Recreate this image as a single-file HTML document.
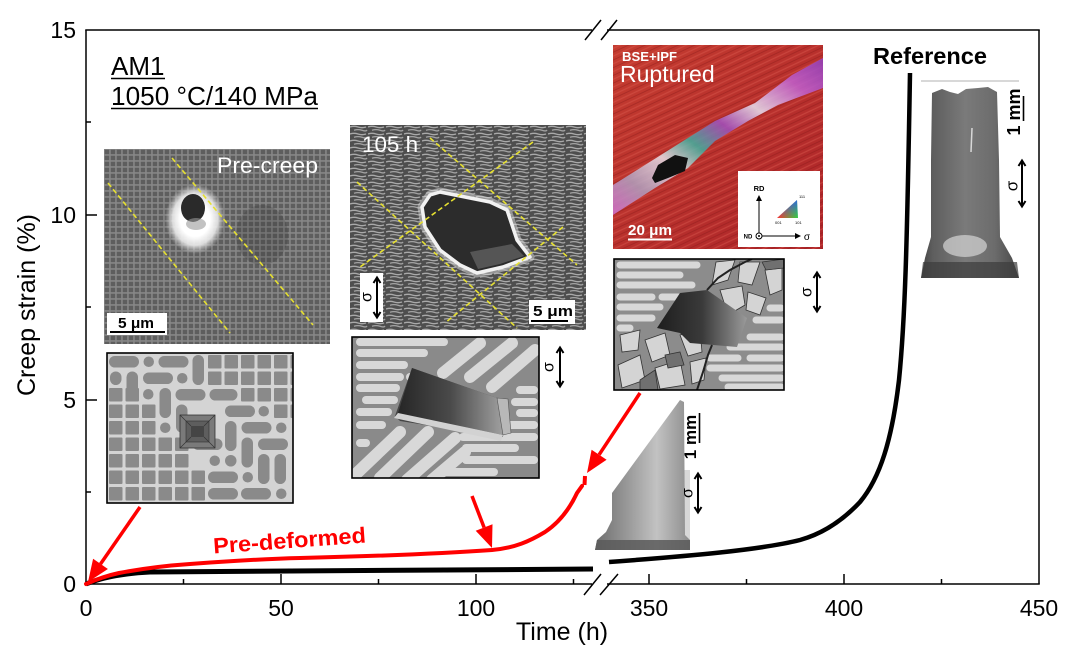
<!DOCTYPE html>
<html><head><meta charset="utf-8">
<style>
html,body{margin:0;padding:0;background:#fff;width:1080px;height:660px;overflow:hidden}
svg{display:block}
text{font-family:"Liberation Sans",Arial,sans-serif}
</style></head><body>
<svg width="1080" height="660" viewBox="0 0 1080 660" xmlns="http://www.w3.org/2000/svg">
<defs>
<pattern id="cub" x="104" y="149" width="6" height="6" patternUnits="userSpaceOnUse">
<rect width="6" height="6" fill="#959595"/><rect x="0.7" y="0.7" width="4.5" height="4.5" fill="#5a5a5a"/>
</pattern>
<pattern id="raft" x="350" y="125" width="18" height="7" patternUnits="userSpaceOnUse">
<rect width="18" height="7" fill="#4e4e4e"/>
<path d="M0,2 Q4,0.6 8,2 T16,2" stroke="#a9a9a9" stroke-width="1.4" fill="none"/>
<path d="M4,5.3 Q8,3.9 12,5.3 T17,5" stroke="#a2a2a2" stroke-width="1.3" fill="none"/>
</pattern>
<pattern id="grid" x="107.5" y="353.5" width="16.5" height="16.5" patternUnits="userSpaceOnUse">
<rect width="16.5" height="16.5" fill="#d4d4d4"/><rect x="1.5" y="1.5" width="13.5" height="13.5" rx="1" fill="#8a8a8a"/>
</pattern>
<pattern id="streak" width="7" height="7" patternUnits="userSpaceOnUse" patternTransform="rotate(-25)">
<line x1="0" y1="2" x2="7" y2="2" stroke="#dc5a50" stroke-width="1.2" opacity="0.45"/>
<line x1="0" y1="5.5" x2="7" y2="5.5" stroke="#801515" stroke-width="1" opacity="0.35"/>
</pattern>
<radialGradient id="glow" cx="0.5" cy="0.5" r="0.5">
<stop offset="0.5" stop-color="#ffffff"/><stop offset="0.75" stop-color="#eaeaea" stop-opacity="0.9"/><stop offset="1" stop-color="#cccccc" stop-opacity="0"/>
</radialGradient>
<linearGradient id="prism" x1="0" y1="0" x2="1" y2="0">
<stop offset="0" stop-color="#262626"/><stop offset="0.5" stop-color="#4a4a4a"/><stop offset="1" stop-color="#a0a0a0"/>
</linearGradient>
<linearGradient id="crack" x1="0" y1="0" x2="1" y2="0">
<stop offset="0" stop-color="#1e1e1e"/><stop offset="0.5" stop-color="#3a3a3a"/><stop offset="1" stop-color="#9a9a9a"/>
</linearGradient>
<linearGradient id="band" x1="0" y1="1" x2="1" y2="0">
<stop offset="0" stop-color="#d070d0"/><stop offset="0.15" stop-color="#b0a0c0"/><stop offset="0.3" stop-color="#e8e0e8"/><stop offset="0.42" stop-color="#40b0a0"/><stop offset="0.55" stop-color="#a050c0"/><stop offset="0.68" stop-color="#e6e0f0"/><stop offset="0.85" stop-color="#c060d0"/><stop offset="1" stop-color="#9040c0"/>
</linearGradient>
<linearGradient id="rup" x1="0" y1="0" x2="1" y2="1">
<stop offset="0" stop-color="#c43c30"/><stop offset="1" stop-color="#ad2529"/>
</linearGradient>
<linearGradient id="cyl" x1="0" y1="0" x2="1" y2="0">
<stop offset="0" stop-color="#444"/><stop offset="0.12" stop-color="#5e5e5e"/><stop offset="0.45" stop-color="#7a7a7a"/><stop offset="0.75" stop-color="#6c6c6c"/><stop offset="1" stop-color="#474747"/>
</linearGradient>
<linearGradient id="cyl2" x1="0" y1="0" x2="1" y2="0">
<stop offset="0" stop-color="#6e6e6e"/><stop offset="0.35" stop-color="#9a9a9a"/><stop offset="0.65" stop-color="#c2c2c2"/><stop offset="1" stop-color="#8c8c8c"/>
</linearGradient>
<linearGradient id="ipf1" x1="0" y1="0" x2="1" y2="0">
<stop offset="0" stop-color="#ff3030"/><stop offset="1" stop-color="#30d040"/>
</linearGradient>
<linearGradient id="ipf2" x1="0" y1="0" x2="0" y2="1">
<stop offset="0" stop-color="#3050ff"/><stop offset="1" stop-color="#3050ff" stop-opacity="0"/>
</linearGradient>
<clipPath id="c1"><rect x="104" y="149" width="226" height="195"/></clipPath>
<clipPath id="c2"><rect x="350" y="125" width="236" height="205"/></clipPath>
<clipPath id="c3"><rect x="107" y="353" width="186" height="150"/></clipPath>
<clipPath id="c4"><rect x="352" y="337" width="187" height="141"/></clipPath>
<clipPath id="c5"><rect x="614" y="259" width="170" height="131"/></clipPath>
<clipPath id="c6"><rect x="613" y="45" width="210" height="204"/></clipPath>
</defs>

<!-- ===== AXES ===== -->
<g stroke="#000" stroke-width="1.5" fill="none">
<line x1="86" y1="30" x2="86" y2="584.75"/>
<line x1="85.25" y1="584" x2="592" y2="584"/>
<line x1="607" y1="584" x2="1039.75" y2="584"/>
<line x1="85.25" y1="30" x2="592" y2="30"/>
<line x1="607" y1="30" x2="1039.75" y2="30"/>
<line x1="1039" y1="30" x2="1039" y2="584"/>
<line x1="584" y1="595" x2="601" y2="574"/>
<line x1="600" y1="595" x2="618" y2="574"/>
<line x1="585" y1="40" x2="601" y2="20"/>
<line x1="601" y1="40" x2="617" y2="20"/>
<line x1="86" y1="400" x2="97" y2="400"/>
<line x1="86" y1="215" x2="97" y2="215"/>
<line x1="86" y1="492" x2="91" y2="492"/>
<line x1="86" y1="307" x2="91" y2="307"/>
<line x1="86" y1="122" x2="91" y2="122"/>
<line x1="281" y1="584" x2="281" y2="574"/>
<line x1="476" y1="584" x2="476" y2="574"/>
<line x1="649" y1="584" x2="649" y2="574"/>
<line x1="844" y1="584" x2="844" y2="574"/>
<line x1="183.5" y1="584" x2="183.5" y2="579"/>
<line x1="378.5" y1="584" x2="378.5" y2="579"/>
<line x1="573.5" y1="584" x2="573.5" y2="579"/>
<line x1="746.5" y1="584" x2="746.5" y2="579"/>
<line x1="941.5" y1="584" x2="941.5" y2="579"/>
</g>
<g font-size="23" fill="#000">
<text x="76" y="38" text-anchor="end">15</text>
<text x="76" y="223" text-anchor="end">10</text>
<text x="76" y="408" text-anchor="end">5</text>
<text x="76" y="592" text-anchor="end">0</text>
<g text-anchor="middle">
<text x="86" y="616">0</text>
<text x="281" y="616">50</text>
<text x="476" y="616">100</text>
<text x="649" y="616">350</text>
<text x="844" y="616">400</text>
<text x="1039" y="616">450</text>
</g>
</g>
<text x="562" y="640" font-size="25" text-anchor="middle">Time (h)</text>
<text transform="translate(35,305) rotate(-90)" font-size="25" text-anchor="middle">Creep strain (%)</text>

<text x="111" y="75" font-size="26">AM1</text>
<line x1="111" y1="78.5" x2="165" y2="78.5" stroke="#000" stroke-width="1.5"/>
<text x="111" y="105" font-size="26" textLength="207" lengthAdjust="spacingAndGlyphs">1050 °C/140 MPa</text>
<line x1="111" y1="108.5" x2="318" y2="108.5" stroke="#000" stroke-width="1.5"/>

<text x="873" y="64" font-size="23.5" font-weight="bold" textLength="114" lengthAdjust="spacingAndGlyphs">Reference</text>

<!-- ===== PRE-CREEP SEM ===== -->
<g clip-path="url(#c1)">
<rect x="104" y="149" width="226" height="195" fill="url(#cub)"/>
<rect x="104" y="149" width="226" height="195" fill="#6a6a6a" opacity="0.3"/>
<ellipse cx="262" cy="235" rx="26" ry="30" fill="#2e2e2e" opacity="0.2"/>
<ellipse cx="195" cy="219" rx="30" ry="35" fill="url(#glow)"/>
<ellipse cx="193" cy="208" rx="12" ry="14" fill="#2a2a2a"/>
<ellipse cx="196" cy="224" rx="10" ry="6" fill="#9a9a9a" opacity="0.6"/>
<line x1="172" y1="158" x2="313" y2="325" stroke="#e6e030" stroke-width="1.6" stroke-dasharray="5,3"/>
<line x1="108" y1="183" x2="230" y2="333" stroke="#e6e030" stroke-width="1.6" stroke-dasharray="5,3"/>
<text x="217" y="173" fill="#fff" font-size="22" textLength="101" lengthAdjust="spacingAndGlyphs">Pre-creep</text>
<rect x="107" y="313" width="60" height="22" fill="#fff"/>
<text x="118" y="328" font-size="15" font-weight="bold" textLength="36" lengthAdjust="spacingAndGlyphs">5 μm</text>
<line x1="110" y1="332" x2="165" y2="332" stroke="#000" stroke-width="2"/>
</g>

<!-- ===== 105 h SEM ===== -->
<g clip-path="url(#c2)">
<rect x="350" y="125" width="236" height="205" fill="url(#raft)"/>
<polygon points="422,207 430,195 440,192 490,202 507,210 517,240 530,257 503,267 477,273 460,265 440,250 425,227" fill="none" stroke="#dcdcdc" stroke-width="9" stroke-linejoin="round" opacity="0.5"/>
<polygon points="422,207 430,195 440,192 490,202 507,210 517,240 530,257 503,267 477,273 460,265 440,250 425,227" fill="#2c2c2c" stroke="#f2f2f2" stroke-width="3.5" stroke-linejoin="round"/>
<polygon points="470,252 512,244 524,256 500,264 478,269" fill="#555"/>
<g stroke="#e6e030" stroke-width="1.6" stroke-dasharray="5,3">
<line x1="430" y1="138" x2="577" y2="265"/>
<line x1="357" y1="182" x2="517" y2="328"/>
<line x1="533" y1="142" x2="360" y2="267"/>
<line x1="563" y1="227" x2="445" y2="323"/>
</g>
<text x="362" y="152" fill="#fff" font-size="22.4">105 h</text>
<rect x="360" y="273" width="23" height="49" fill="#fff"/>
<path d="M377,278 L377,317 M373.5,283 L377,277.5 L380.5,283 M373.5,312 L377,317.5 L380.5,312" stroke="#000" stroke-width="2" fill="none"/>
<text transform="translate(367,297) rotate(-90)" font-size="16" text-anchor="middle" dominant-baseline="central">σ</text>
<rect x="529" y="300" width="46" height="24" fill="#fff"/>
<text x="533" y="316" font-size="15" font-weight="bold" textLength="40" lengthAdjust="spacingAndGlyphs">5 μm</text>
<line x1="531" y1="321" x2="568" y2="321" stroke="#000" stroke-width="2"/>
</g>

<!-- ===== SCHEMATIC 1 ===== -->
<g clip-path="url(#c3)">
<rect x="107" y="353" width="186" height="150" fill="url(#grid)"/>
<polygon points="107,353 206,353 206,387 240,387 240,404 273,404 273,420 293,420 293,503 206,503 206,470 190,470 190,437 157,437 157,404 140,404 140,387 107,387" fill="#d4d4d4"/>
<g fill="#8a8a8a">
<rect x="109" y="356" width="30" height="11.5" rx="5.75"/>
<rect x="143.5" y="356.5" width="10.5" height="10.5" rx="5.25"/>
<rect x="158.5" y="356" width="30" height="11.5" rx="5.75"/>
<rect x="192.5" y="355" width="11.5" height="30" rx="5.75"/>
<rect x="110" y="371.5" width="11.5" height="13.5" rx="5.75"/>
<rect x="126.5" y="371.5" width="11.5" height="30" rx="5.75"/>
<rect x="143" y="372.5" width="30" height="11.5" rx="5.75"/>
<rect x="177" y="373" width="10.5" height="10.5" rx="5.25"/>
<rect x="143" y="389" width="10.5" height="10.5" rx="5.25"/>
<rect x="159.5" y="388" width="11.5" height="30" rx="5.75"/>
<rect x="175.5" y="389" width="30" height="11.5" rx="5.75"/>
<rect x="209.5" y="389" width="28" height="11.5" rx="5.75"/>
<rect x="176" y="404.5" width="11.5" height="28" rx="5.75"/>
<rect x="225" y="405.5" width="30" height="11.5" rx="5.75"/>
<rect x="258.5" y="406" width="10.5" height="10.5" rx="5.25"/>
<rect x="160" y="422.5" width="10.5" height="10.5" rx="5.25"/>
<rect x="225" y="421" width="11.5" height="30" rx="5.75"/>
<rect x="241.5" y="422" width="30" height="11.5" rx="5.75"/>
<rect x="276" y="422.5" width="10.5" height="10.5" rx="5.25"/>
<rect x="192.5" y="438.5" width="30" height="11.5" rx="5.75"/>
<rect x="241.5" y="437.5" width="11.5" height="30" rx="5.75"/>
<rect x="258" y="438.5" width="30" height="11.5" rx="5.75"/>
<rect x="209.5" y="455.5" width="10.5" height="10.5" rx="5.25"/>
<rect x="225" y="455" width="11.5" height="11.5" rx="5.75"/>
<rect x="258" y="454" width="11.5" height="30" rx="5.75"/>
<rect x="274.5" y="454" width="11.5" height="30" rx="5.75"/>
<rect x="208" y="471.5" width="30" height="11.5" rx="5.75"/>
<rect x="242.5" y="472" width="10.5" height="10.5" rx="5.25"/>
<rect x="208" y="488" width="30" height="11.5" rx="5.75"/>
<rect x="241" y="488" width="30" height="11.5" rx="5.75"/>
<rect x="276" y="488.5" width="10.5" height="10.5" rx="5.25"/>
</g>
<rect x="180" y="415" width="35" height="33" fill="#7a7a7a" stroke="#333" stroke-width="0.8"/>
<rect x="186" y="421" width="23" height="21" fill="#5e5e5e" stroke="#333" stroke-width="0.6"/>
<rect x="191" y="426" width="13" height="11" fill="#454545"/>
<path d="M180,415 L191,426 M215,415 L204,426 M180,448 L191,437 M215,448 L204,437" stroke="#333" stroke-width="0.7"/>
</g>
<rect x="107" y="353" width="186" height="150" fill="none" stroke="#000" stroke-width="1.6"/>

<!-- ===== SCHEMATIC 2 ===== -->
<g clip-path="url(#c4)">
<rect x="352" y="337" width="187" height="141" fill="#8a8a8a"/>
<g stroke="#d8d8d8" stroke-width="8" stroke-linecap="round">
<line x1="360" y1="342" x2="444" y2="342"/>
<line x1="360" y1="353" x2="424" y2="353"/>
<line x1="360" y1="365" x2="404" y2="365"/>
<line x1="360" y1="377" x2="400" y2="377"/><line x1="410" y1="377" x2="415" y2="377"/>
<line x1="360" y1="388" x2="396" y2="388"/>
<line x1="366" y1="400" x2="394" y2="400"/>
<line x1="360" y1="412" x2="388" y2="412"/>
<line x1="360" y1="425" x2="382" y2="425"/>
<line x1="360" y1="443" x2="366" y2="443"/>
<line x1="520" y1="390" x2="534" y2="390"/>
<line x1="515" y1="402" x2="534" y2="402"/>
<line x1="520" y1="413" x2="534" y2="413"/>
<line x1="490" y1="425" x2="534" y2="425"/>
<line x1="463" y1="437" x2="534" y2="437"/>
<line x1="466" y1="448" x2="515" y2="448"/>
<line x1="466" y1="460" x2="534" y2="460"/>
<line x1="443" y1="472" x2="494" y2="472"/>
</g>
<g stroke="#d8d8d8" stroke-width="12" stroke-linecap="round">
<line x1="443" y1="373" x2="480" y2="343"/>
<line x1="470" y1="377" x2="512" y2="343"/>
<line x1="492" y1="387" x2="535" y2="350"/>
<line x1="357" y1="473" x2="400" y2="432"/>
<line x1="380" y1="478" x2="428" y2="432"/>
<line x1="407" y1="480" x2="455" y2="438"/>
<line x1="432" y1="480" x2="465" y2="452"/>
</g>
<polygon points="412,368 395,416 400,421 503,437 497,398" fill="#444"/>
<polygon points="412,368 497,398 503,435 398,413" fill="url(#prism)"/>
<polygon points="398,413 503,435 501,441 394,418" fill="#d2d2d2"/>
<polygon points="497,398 508,399 511,433 503,435" fill="#b8b8b8" stroke="#555" stroke-width="0.6"/>
</g>
<rect x="352" y="337" width="187" height="141" fill="none" stroke="#000" stroke-width="1.6"/>
<path d="M560,348 L560,386 M556.5,353 L560,347.5 L563.5,353 M556.5,381 L560,386.5 L563.5,381" stroke="#000" stroke-width="2" fill="none"/>
<text transform="translate(549,367) rotate(-90)" font-size="16" text-anchor="middle" dominant-baseline="central">σ</text>

<!-- ===== RUPTURED ===== -->
<g clip-path="url(#c6)">
<rect x="613" y="45" width="210" height="204" fill="url(#rup)"/>
<rect x="613" y="45" width="210" height="204" fill="url(#streak)"/>
<polygon points="613,185 672,148 715,121 755,103 792,75 823,58 823,88 778,105 748,121 715,141 688,168 655,188 613,215" fill="url(#band)" opacity="0.85"/>
<polygon points="652,178 658,165 675,155 688,158 685,171 668,178 655,183" fill="#111"/>
<text x="622" y="61" fill="#fff" font-size="13" font-weight="bold" textLength="55" lengthAdjust="spacingAndGlyphs">BSE+IPF</text>
<text x="620" y="82" fill="#fff" font-size="23">Ruptured</text>
<text x="628" y="235" fill="#fff" font-size="15" font-weight="bold" textLength="44" lengthAdjust="spacingAndGlyphs">20 μm</text>
<line x1="628" y1="239.5" x2="672" y2="239.5" stroke="#fff" stroke-width="2"/>
<rect x="738" y="171" width="82" height="76" fill="#fff"/>
<g stroke="#000" stroke-width="1" fill="none">
<line x1="759" y1="233" x2="759" y2="200"/>
<line x1="762" y1="236" x2="796" y2="236"/>
<circle cx="759" cy="236" r="3"/>
</g>
<circle cx="759" cy="236" r="1" fill="#000"/>
<polygon points="756,201 762,201 759,195" fill="#000"/>
<polygon points="795,233 795,239 801,236" fill="#000"/>
<text x="759" y="191" font-size="7.5" font-weight="bold" text-anchor="middle">RD</text>
<text x="748" y="238.5" font-size="6" font-weight="bold" text-anchor="middle">ND</text>
<text x="807" y="240" font-size="10" text-anchor="middle">σ</text>
<polygon points="797,200 777,218 798,218" fill="url(#ipf1)"/>
<polygon points="797,200 777,218 798,218" fill="url(#ipf2)" opacity="0.8"/>
<text x="799" y="198" font-size="4">111</text>
<text x="775" y="224" font-size="4">001</text>
<text x="795" y="224" font-size="4">101</text>
</g>

<!-- ===== SCHEMATIC 3 ===== -->
<g clip-path="url(#c5)">
<rect x="614" y="259" width="170" height="131" fill="#8c8c8c"/>
<g stroke="#d8d8d8" stroke-width="7" stroke-linecap="round">
<line x1="620" y1="265" x2="697" y2="265"/>
<line x1="620" y1="275" x2="680" y2="275"/>
<line x1="620" y1="285" x2="692" y2="285"/>
<line x1="620" y1="297" x2="652" y2="297"/><line x1="662" y1="297" x2="680" y2="297"/>
<line x1="620" y1="307" x2="660" y2="307"/>
<line x1="620" y1="318" x2="652" y2="318"/>
<line x1="620" y1="328" x2="630" y2="328"/>
<line x1="770" y1="308" x2="781" y2="308"/>
<line x1="756" y1="320" x2="781" y2="320"/>
<line x1="750" y1="337" x2="781" y2="337"/>
<line x1="730" y1="347" x2="781" y2="347"/>
<line x1="710" y1="358" x2="738" y2="358"/><line x1="750" y1="358" x2="781" y2="358"/>
<line x1="710" y1="368" x2="781" y2="368"/>
<line x1="722" y1="378" x2="781" y2="378"/>
<line x1="728" y1="387" x2="781" y2="387"/>
</g>
<g fill="#d4d4d4" stroke="#333" stroke-width="0.8">
<polygon points="716,262 735,260 728,280 712,285"/>
<polygon points="740,262 760,262 752,285 738,282"/>
<polygon points="765,270 782,268 782,290 770,295"/>
<polygon points="720,290 742,286 745,305 728,315"/>
<polygon points="748,292 766,298 760,315 746,310"/>
<polygon points="618,365 640,355 645,380 622,388"/>
<polygon points="645,340 665,333 670,355 652,362"/>
<polygon points="655,368 680,360 685,385 660,389"/>
<polygon points="680,335 700,330 702,352 688,356"/>
<polygon points="620,335 640,330 638,350 622,352"/>
<polygon points="690,362 706,358 704,380 692,384"/>
</g>
<g fill="#707070" stroke="#333" stroke-width="0.8">
<polygon points="640,380 655,370 658,390 640,392"/>
<polygon points="665,355 680,352 684,365 668,368"/>
<polygon points="762,262 784,259 784,268 766,270"/>
</g>
<polygon points="657,328 680,293 707,290 747,318 737,347 690,343 680,333" fill="url(#crack)"/>
<polyline points="697,390 703,372 708,355 712,345" stroke="#222" stroke-width="2" fill="none"/>
<polyline points="707,290 718,278 730,270 745,262 752,259" stroke="#222" stroke-width="2" fill="none"/>
</g>
<rect x="614" y="259" width="170" height="131" fill="none" stroke="#000" stroke-width="1.6"/>
<path d="M817,273 L817,311 M813.5,278 L817,272.5 L820.5,278 M813.5,306 L817,311.5 L820.5,306" stroke="#000" stroke-width="2" fill="none"/>
<text transform="translate(807,292) rotate(-90)" font-size="16" text-anchor="middle" dominant-baseline="central">σ</text>

<!-- ===== PRE-DEFORMED SPECIMEN ===== -->
<rect x="684" y="470" width="6" height="72" fill="#d8d8d8"/>
<path d="M680,400 L684,402 L685,535 L690,540 L690,550 L595,550 L597,540 L606,532 L612,520 L612,493 Z" fill="url(#cyl2)"/>
<path d="M597,540 L690,540 L690,550 L595,550 Z" fill="#5a5a5a" opacity="0.85"/>
<text transform="translate(696,437) rotate(-90)" font-size="17" font-weight="bold" text-anchor="middle">1 mm</text>
<line x1="699.5" y1="413" x2="699.5" y2="443" stroke="#000" stroke-width="1.6"/>
<path d="M698,474 L698,512 M694.5,479 L698,473.5 L701.5,479 M694.5,507 L698,512.5 L701.5,507" stroke="#000" stroke-width="2" fill="none"/>
<text transform="translate(688,493) rotate(-90)" font-size="16" text-anchor="middle" dominant-baseline="central">σ</text>

<!-- ===== REFERENCE SPECIMEN ===== -->
<line x1="921" y1="81" x2="1019" y2="81" stroke="#b0b0b0" stroke-width="1"/>
<path d="M932,93 L942,89 L950,92 L958,94 L966,89 L978,88 L988,87 L997,92 L999,160 L1000,237 L1012,258 L1019,278 L921,278 L925,258 L931,237 L931,160 Z" fill="url(#cyl)"/>
<ellipse cx="965" cy="246" rx="22" ry="11" fill="#cfcfcf" opacity="0.75"/>
<path d="M923,262 L1017,262 L1019,278 L921,278 Z" fill="#3c3c3c" opacity="0.7"/>
<line x1="972" y1="128" x2="971" y2="152" stroke="#d8d8d8" stroke-width="1.5"/>
<text transform="translate(1020,112) rotate(-90)" font-size="18" font-weight="bold" text-anchor="middle">1 mm</text>
<line x1="1023.5" y1="96" x2="1023.5" y2="121" stroke="#000" stroke-width="1.6"/>
<path d="M1022,161 L1022,206 M1018.5,166 L1022,160.5 L1025.5,166 M1018.5,201 L1022,206.5 L1025.5,201" stroke="#000" stroke-width="2" fill="none"/>
<text transform="translate(1012,186) rotate(-90)" font-size="17" text-anchor="middle" dominant-baseline="central">σ</text>

<!-- ===== CURVES ===== -->
<path d="M86,584 Q110,574 150,572 L593,569" stroke="#000" stroke-width="5" fill="none"/>
<path d="M609,562 C690,556 760,550 800,540 C825,533 845,518 860,502 C880,478 892,440 899,380 C905,320 907,250 910,73" stroke="#000" stroke-width="4.5" fill="none"/>
<path d="M86,584 C95,580 105,576 119,573 C135,570 160,566 190,564 C230,561 260,559 300,558 C380,556 450,553 492,550 C515,548 530,541 545,532 C560,522 570,508 577,493 L582,486" stroke="#ff0000" stroke-width="4" fill="none" stroke-linecap="round"/>
<line x1="584.5" y1="485" x2="585" y2="476" stroke="#ff0000" stroke-width="4"/>

<g stroke="#ff0000" stroke-width="3.5">
<line x1="140" y1="507" x2="100.5" y2="564"/>
<line x1="472" y1="496" x2="484.1" y2="527.5"/>
<line x1="640" y1="393" x2="599.1" y2="454.7"/>
</g>
<g fill="#ff0000">
<polygon points="88,582 107.9,569 93.1,558.8"/>
<polygon points="492,548 492.5,524.3 475.7,530.7"/>
<polygon points="587,473 606.6,459.7 591.6,449.7"/>
</g>
<text transform="translate(290,548) rotate(-4.1)" text-anchor="middle" font-weight="bold" font-size="22" fill="#ff0000" textLength="153" lengthAdjust="spacingAndGlyphs">Pre-deformed</text>
</svg>
</body></html>
